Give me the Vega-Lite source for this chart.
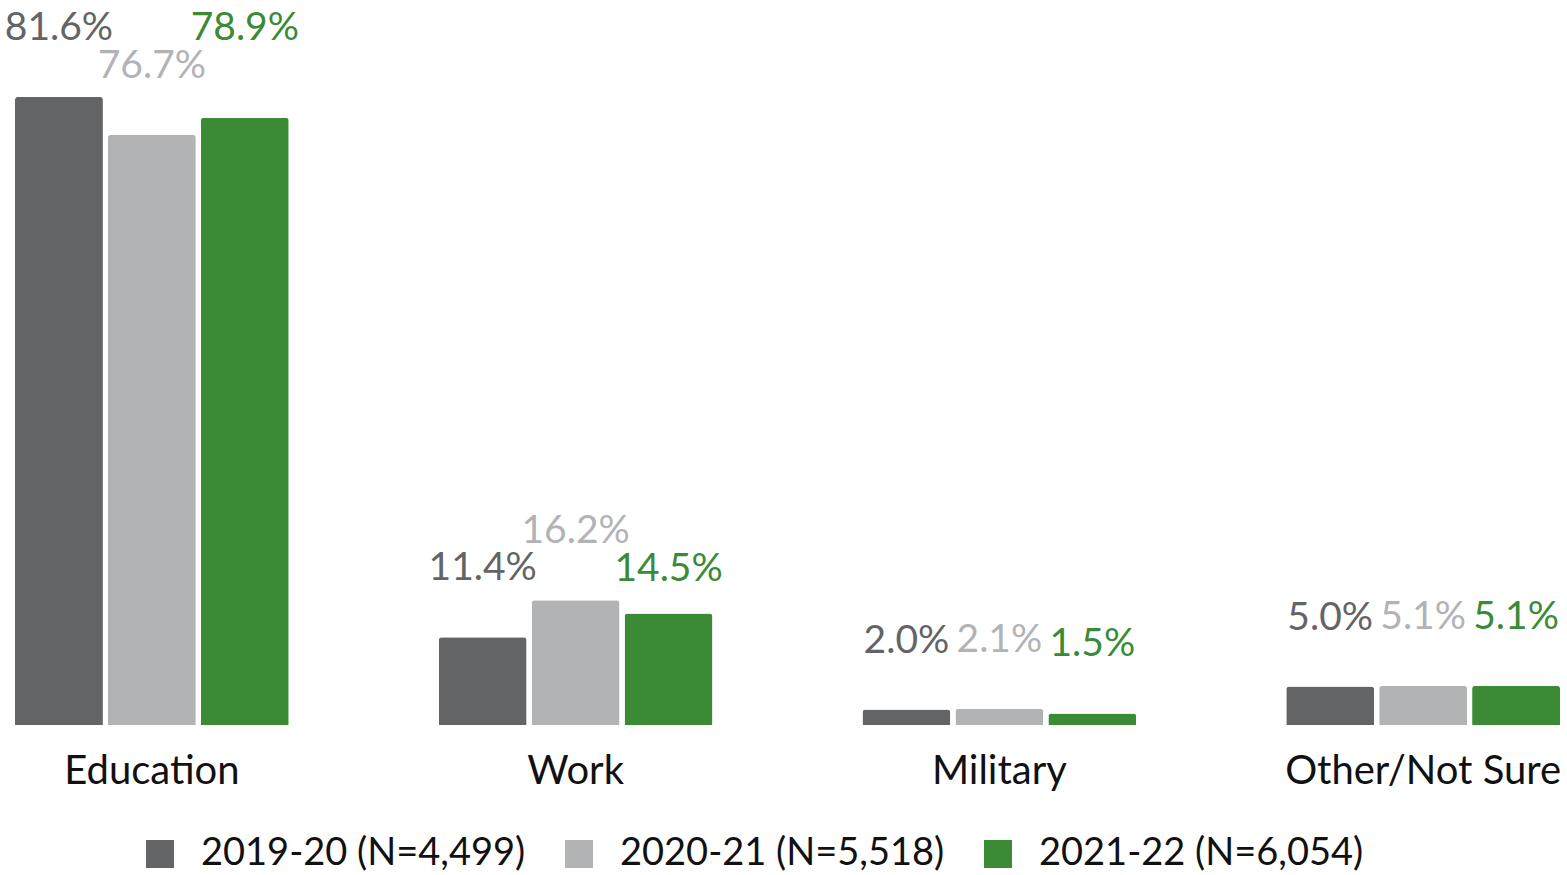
{
  "$schema": "https://vega.github.io/schema/vega-lite/v6.json",
  "autosize": "none",
  "width": 1545,
  "height": 725,
  "padding": {"left": 15, "top": 0, "right": 7, "bottom": 150},
  "background": "white",
  "config": {"font": "Lato", "view": {"stroke": null}},
  "data": {"values": [
    {"cat": "Education", "year": "2019-20 (N=4,499)", "v": 0.816},
    {"cat": "Education", "year": "2020-21 (N=5,518)", "v": 0.767},
    {"cat": "Education", "year": "2021-22 (N=6,054)", "v": 0.789},
    {"cat": "Work", "year": "2019-20 (N=4,499)", "v": 0.114},
    {"cat": "Work", "year": "2020-21 (N=5,518)", "v": 0.162},
    {"cat": "Work", "year": "2021-22 (N=6,054)", "v": 0.145},
    {"cat": "Military", "year": "2019-20 (N=4,499)", "v": 0.020},
    {"cat": "Military", "year": "2020-21 (N=5,518)", "v": 0.021},
    {"cat": "Military", "year": "2021-22 (N=6,054)", "v": 0.015},
    {"cat": "Other/Not Sure", "year": "2019-20 (N=4,499)", "v": 0.050},
    {"cat": "Other/Not Sure", "year": "2020-21 (N=5,518)", "v": 0.051},
    {"cat": "Other/Not Sure", "year": "2021-22 (N=6,054)", "v": 0.051}
  ]},
  "encoding": {
    "x": {"field": "cat", "type": "nominal", "sort": null,
      "scale": {"paddingInner": 0.354, "paddingOuter": 0},
      "axis": {"title": null, "domain": false, "ticks": false, "labelAngle": 0, "labelFontSize": 40, "labelColor": "#111111", "labelPadding": 26, "labelLimit": 500, "labelFont": "Lato"}},
    "xOffset": {"field": "year", "type": "nominal", "scale": {"paddingInner": 0.054, "paddingOuter": 0}},
    "y": {"field": "v", "type": "quantitative", "scale": {"domain": [0, 0.942], "nice": false}, "axis": null}
  },
  "layer": [
    {
      "mark": {"type": "bar", "cornerRadiusTopLeft": 3, "cornerRadiusTopRight": 3},
      "encoding": {
        "color": {"field": "year", "type": "nominal",
          "scale": {"range": ["#636466", "#b2b3b5", "#3a8a36"]},
          "legend": {"title": null, "orient": "none", "legendX": 126, "legendY": 835, "direction": "horizontal",
            "symbolType": "square", "symbolSize": 784, "symbolStrokeWidth": 0, "labelFontSize": 38, "labelColor": "#111111",
            "labelOffset": 22, "columnPadding": 34, "labelLimit": 500, "labelFont": "Lato"}}
      }
    },
    {
      "transform": [{"filter": "!(datum.year == '2021-22 (N=6,054)' && (datum.cat == 'Education' || datum.cat == 'Work'))"}],
      "mark": {"type": "text", "baseline": "middle", "dy": -69, "fontSize": 39},
      "encoding": {
        "text": {"field": "v", "type": "quantitative", "format": ".1%"},
        "color": {"field": "year", "type": "nominal", "legend": null}
      }
    },
    {
      "transform": [{"filter": "datum.year == '2021-22 (N=6,054)' && datum.cat == 'Education'"}],
      "mark": {"type": "text", "baseline": "middle", "dy": -90, "fontSize": 39},
      "encoding": {
        "text": {"field": "v", "type": "quantitative", "format": ".1%"},
        "color": {"field": "year", "type": "nominal", "legend": null}
      }
    },
    {
      "transform": [{"filter": "datum.year == '2021-22 (N=6,054)' && datum.cat == 'Work'"}],
      "mark": {"type": "text", "baseline": "middle", "dy": -44, "fontSize": 39},
      "encoding": {
        "text": {"field": "v", "type": "quantitative", "format": ".1%"},
        "color": {"field": "year", "type": "nominal", "legend": null}
      }
    }
  ]
}
